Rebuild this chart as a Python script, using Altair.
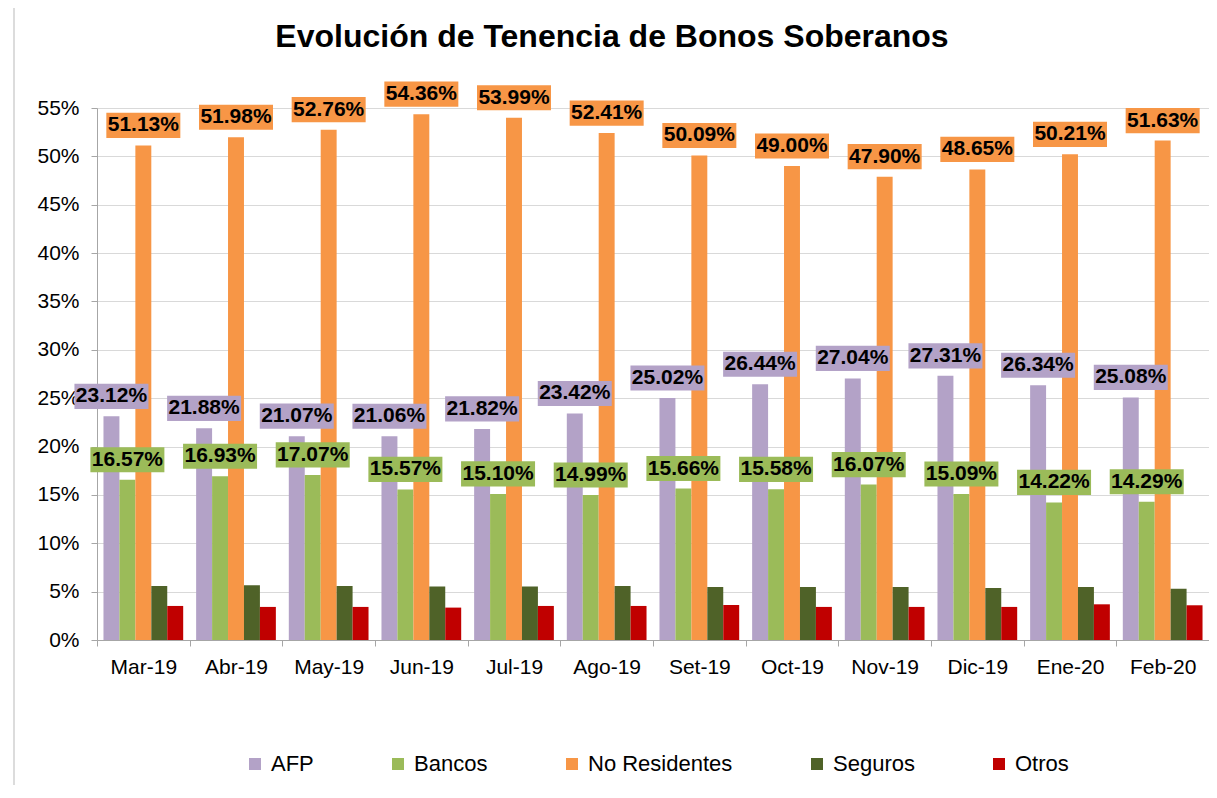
import altair as alt
import pandas as pd

months = ["Mar-19", "Abr-19", "May-19", "Jun-19", "Jul-19", "Ago-19",
          "Set-19", "Oct-19", "Nov-19", "Dic-19", "Ene-20", "Feb-20"]
series = ["AFP", "Bancos", "No Residentes", "Seguros", "Otros"]

afp = [23.12, 21.88, 21.07, 21.06, 21.82, 23.42, 25.02, 26.44, 27.04, 27.31, 26.34, 25.08]
bancos = [16.57, 16.93, 17.07, 15.57, 15.10, 14.99, 15.66, 15.58, 16.07, 15.09, 14.22, 14.29]
no_residentes = [51.13, 51.98, 52.76, 54.36, 53.99, 52.41, 50.09, 49.00, 47.90, 48.65, 50.21, 51.63]
seguros = [5.59, 5.66, 5.59, 5.52, 5.52, 5.59, 5.49, 5.49, 5.49, 5.38, 5.49, 5.31]
otros = [3.52, 3.42, 3.42, 3.35, 3.52, 3.52, 3.62, 3.42, 3.42, 3.42, 3.69, 3.59]

labelled = ["AFP", "Bancos", "No Residentes"]
colors = ["#b3a2c7", "#9bbb59", "#f79646", "#4f6228", "#c00000"]
y_ticks = [0, 5, 10, 15, 20, 25, 30, 35, 40, 45, 50, 55]

values = {"AFP": afp, "Bancos": bancos, "No Residentes": no_residentes,
          "Seguros": seguros, "Otros": otros}
rows = []
for s in series:
    for m, v in zip(months, values[s]):
        rows.append({"mes": m, "serie": s, "valor": v})
df = pd.DataFrame(rows)

FONT = "Liberation Sans"

x = alt.X("mes:N", sort=months,
          scale=alt.Scale(paddingInner=0, paddingOuter=0),
          axis=alt.Axis(title=None, labelAngle=0, labelFontSize=21, labelFont=FONT,
                        labelColor="#000000", tickBand="extent", ticks=True, tickSize=6,
                        tickColor="#a6a6a6", domainColor="#a6a6a6", labelPadding=10,
                        grid=False))
xoff = alt.XOffset("serie:N", sort=series,
                   scale=alt.Scale(paddingInner=0, paddingOuter=0.406))
y = alt.Y("valor:Q", scale=alt.Scale(domain=[0, 55], nice=False),
          axis=alt.Axis(title=None, values=y_ticks, labelExpr="datum.value + '%'",
                        labelFontSize=21, labelFont=FONT, labelColor="#000000",
                        tickSize=6, tickColor="#a6a6a6", domainColor="#a6a6a6",
                        labelPadding=12, gridColor="#d9d9d9", gridWidth=1))
color_scale = alt.Scale(domain=series, range=colors)

bars = alt.Chart(df).mark_bar().encode(
    x=x, xOffset=xoff, y=y,
    color=alt.Color("serie:N", sort=series, scale=color_scale,
                    legend=alt.Legend(title=None, orient="none", legendX=147, legendY=645,
                                      direction="horizontal", symbolType="square",
                                      symbolSize=144, symbolStrokeWidth=0,
                                      labelFontSize=22, labelFont=FONT,
                                      labelColor="#000000", columnPadding=73,
                                      labelOffset=5)),
)

lab = alt.Chart(df).transform_filter(
    alt.FieldOneOfPredicate(field="serie", oneOf=labelled)
).transform_calculate(
    label="format(datum.valor, '.2f') + '%'"
)

boxes = lab.mark_point(
    shape="M-1,-0.34L1,-0.34L1,0.34L-1,0.34Z", size=5476, filled=True,
    opacity=1, strokeWidth=0, yOffset=-20
).encode(
    x=x, xOffset=xoff, y=y,
    color=alt.Color("serie:N", sort=series, scale=color_scale, legend=None),
)

texts = lab.mark_text(
    font=FONT, fontSize=21, fontWeight="bold", dy=-20, baseline="middle",
    align="center", color="#000000"
).encode(x=x, xOffset=xoff, y=y, text="label:N")

border = alt.Chart(pd.DataFrame({"a": [0]})).mark_rule(color="#d0d0d0", strokeWidth=1.5).encode(
    x=alt.value(-83), y=alt.value(-100), y2=alt.value(690)
)

chart = alt.layer(bars, boxes, texts, border).properties(
    width=1112, height=532,
    autosize="none",
    padding={"left": 89, "top": 100, "right": 0, "bottom": 145},
    title=alt.TitleParams("Evolución de Tenencia de Bonos Soberanos", font=FONT,
                          fontSize=32, fontWeight="bold", anchor="middle", dx=-41,
                          dy=57, color="#000000", offset=10),
).configure_view(stroke=None).configure(background="white")

chart.save("out.html", embed_options={"renderer": "svg", "actions": False})
